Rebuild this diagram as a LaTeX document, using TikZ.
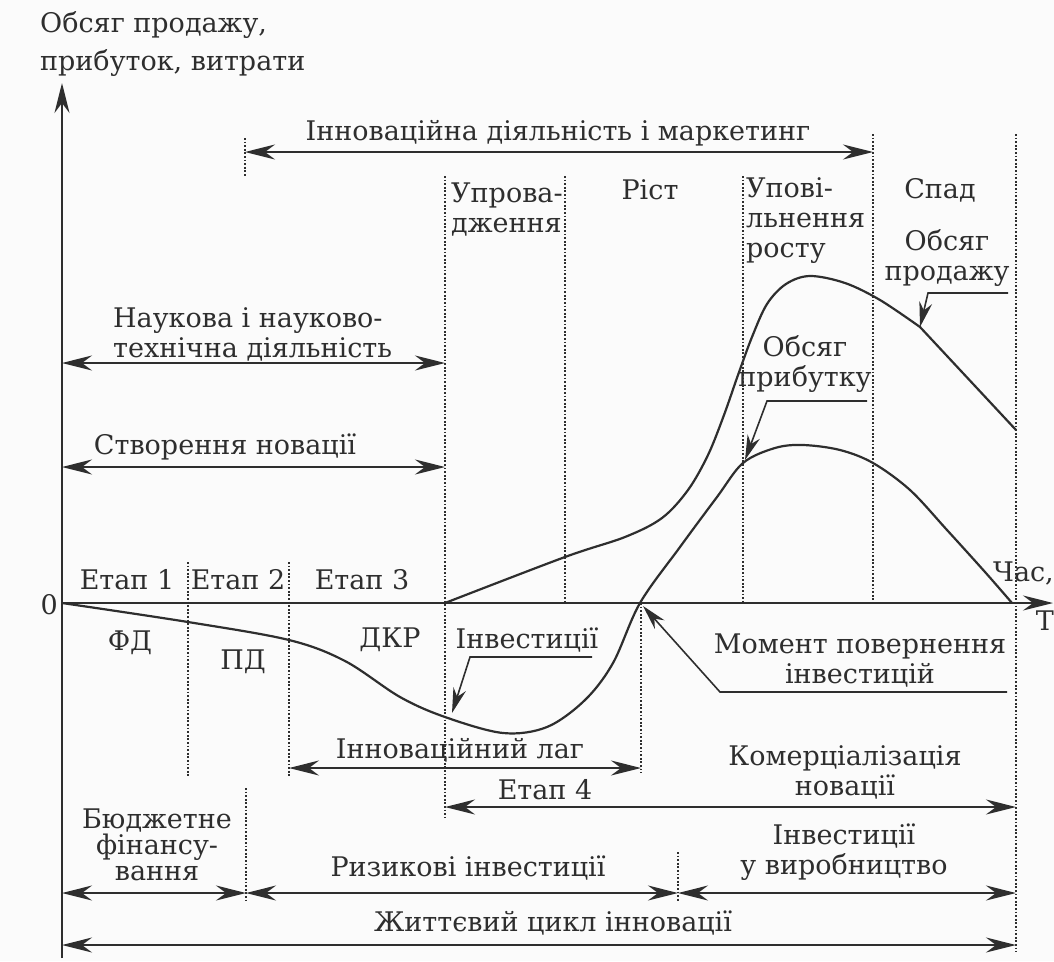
\documentclass[tikz,border=0pt]{standalone}
\usepackage{fontspec}
\setmainfont{DejaVu Serif}
\usepackage{tikz}
\usetikzlibrary{positioning, calc, arrows.meta}
\definecolor{ink}{HTML}{2E2E2E}
\definecolor{paper}{HTML}{FBFBFB}

\begin{document}
\begin{tikzpicture}[x=1pt, y=-1pt, color=ink,
  >={Stealth[length=30pt, width=15pt, inset=10pt]},
  lbl/.style={font=\fontsize{27}{30}\selectfont, inner sep=0pt, align=center},
  guide/.style={line width=1.5pt, dash pattern=on 1.8pt off 1.8pt},
  axis/.style={->, line width=2pt},
  dim/.style={<->, line width=1.8pt},
  lead/.style={->, line width=1.6pt, >={Stealth[length=25pt, width=13pt, inset=8pt]}},
  curve/.style={line width=2.2pt, line join=round}]
  \fill[paper] (0,0) rectangle (1054,961);
  \useasboundingbox (0,0) rectangle (1054,961);

  % axes
  \coordinate (o) at (62,603);
  \coordinate (ytop) at (62,83);
  \coordinate (ybot) at (62,958);
  \coordinate (xend) at (1053,603);
  \path (ybot) edge[axis] (ytop);
  \path (o) edge[axis] (xend);

  % dotted guides
  \draw[guide] (245,138) -- (245,176);
  \draw[guide] (188,562) -- (188,776);
  \draw[guide] (289,562) -- (289,776);
  \draw[guide] (445,176) -- (445,818);
  \draw[guide] (565,176) -- (565,603);
  \draw[guide] (641,603) -- (641,773);
  \draw[guide] (743,176) -- (743,603);
  \draw[guide] (873,134) -- (873,603);
  \draw[guide] (1016,134) -- (1016,952);
  \draw[guide] (246,788) -- (246,902);
  \draw[guide] (678,852) -- (678,902);

  % curves
  \draw[curve] plot[smooth, tension=0.55] coordinates {(62,603) (188,622) (289,640) (345,661)
    (400,697) (445,717) (503,733) (547,727) (585,700) (613,663) (640,603) (680,547)
    (717,497) (743,463) (775,448) (803,445) (840,450) (873,463) (910,490) (947,530) (985,572) (1012,603)};
  \draw[curve] plot[smooth, tension=0.55] coordinates {(445,603) (565,557) (625,537) (662,518) (688,490)
    (708,455) (724,415) (738,375) (752,337) (767,304) (786,284) (810,276) (845,283) (880,300) (920,327)}
    -- (1016,430);

  % labels
  \node[lbl, align=left, anchor=west] (yl) at (40,44) {Обсяг продажу,\\[8pt]прибуток, витрати};
  \node[lbl] (inn) at (558,133) {Інноваційна діяльність і маркетинг};
  \node[lbl, align=left, anchor=west] (upr) at (451,210) {Упрова-\\дження};
  \node[lbl] (rist) at (650,190) {Ріст};
  \node[lbl, align=left, anchor=west] (upov) at (746,221) {Упові-\\льнення\\росту};
  \node[lbl] (spad) at (940,190) {Спад};
  \node[lbl] (prod) at (947,258) {Обсяг\\продажу};
  \node[lbl] (prib) at (805,364) {Обсяг\\прибутку};
  \node[lbl, align=left, anchor=west] (nauk) at (113,334) {Наукова і науково-\\технічна діяльність};
  \node[lbl] (stv) at (225,447) {Створення новації};
  \node[lbl] (e1) at (127,580) {Етап 1};
  \node[lbl] (e2) at (238,580) {Етап 2};
  \node[lbl] (e3) at (362,580) {Етап 3};
  \node[lbl, anchor=east] (zero) at (58,605) {0};
  \node[lbl] (fd) at (130,643) {ФД};
  \node[lbl] (pd) at (243,662) {ПД};
  \node[lbl] (dkr) at (390,640) {ДКР};
  \node[lbl] (inv) at (527,640) {Інвестиції};
  \node[lbl, anchor=east] (chas) at (1054,573) {Час,};
  \node[lbl, anchor=east] (tt) at (1054,621) {Т};
  \node[lbl] (mom) at (860,661) {Момент повернення\\інвестицій};
  \node[lbl] (lag) at (460,750) {Інноваційний лаг};
  \node[lbl] (e4) at (545,790) {Етап 4};
  \node[lbl] (kom) at (845,772) {Комерціалізація\\новації};
  \node[lbl, font=\fontsize{27}{26}\selectfont] (bud) at (157,845) {Бюджетне\\фінансу-\\вання};
  \node[lbl] (ryz) at (468,868) {Ризикові інвестиції};
  \node[lbl] (invv) at (844,852) {Інвестиції\\у виробництво};
  \node[lbl] (zhyt) at (553,923) {Життєвий цикл інновації};

  % dimension arrows
  \coordinate (inn1) at (245,152);   \coordinate (inn2) at (873,152);
  \coordinate (nauk1) at (62,363);   \coordinate (nauk2) at (445,363);
  \coordinate (stv1) at (62,467);    \coordinate (stv2) at (445,467);
  \coordinate (lag1) at (289,768);   \coordinate (lag2) at (641,768);
  \coordinate (e41) at (445,807);    \coordinate (e42) at (1016,807);
  \coordinate (bud1) at (62,893);    \coordinate (bud2) at (246,893);
  \coordinate (ryz1) at (246,893);   \coordinate (ryz2) at (678,893);
  \coordinate (invv1) at (678,893);  \coordinate (invv2) at (1016,893);
  \coordinate (zhyt1) at (62,945);   \coordinate (zhyt2) at (1016,945);
  \path (inn1) edge[dim] (inn2);
  \path (nauk1) edge[dim] (nauk2);
  \path (stv1) edge[dim] (stv2);
  \path (lag1) edge[dim] (lag2);
  \path (e41) edge[dim] (e42);
  \path (bud1) edge[dim] (bud2);
  \path (ryz1) edge[dim] (ryz2);
  \path (invv1) edge[dim] (invv2);
  \path (zhyt1) edge[dim] (zhyt2);

  % pointers
  \coordinate (prodtip) at (920,327);
  \coordinate (pribtip) at (745,460);
  \coordinate (invtip) at (452,713);
  \coordinate (momtip) at (643,606);
  \draw[lead] (1008,293) -- (928,293) -- (prodtip);
  \draw[lead] (867,401) -- (767,401) -- (pribtip);
  \draw[lead] (592,657) -- (470,657) -- (invtip);
  \draw[lead] (1007,692) -- (720,692) -- (momtip);
\end{tikzpicture}
\end{document}
